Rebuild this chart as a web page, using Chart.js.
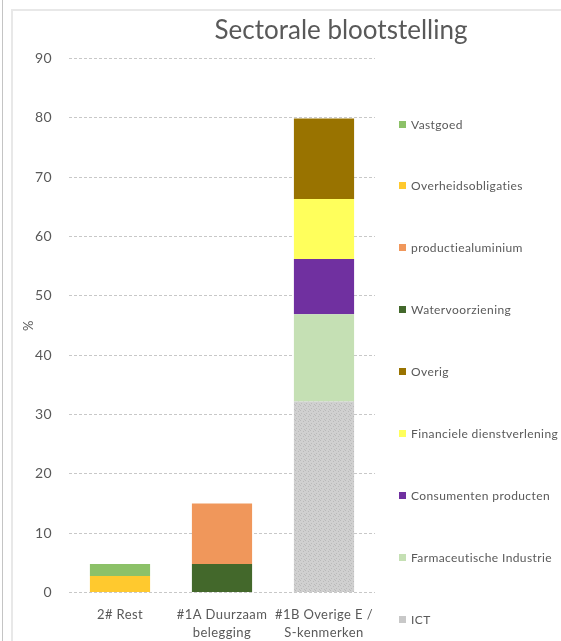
<!DOCTYPE html>
<html>
<head>
<meta charset="utf-8">
<script src="https://cdn.jsdelivr.net/npm/chart.js@4.4.1/dist/chart.umd.min.js"></script>
<style>
  html, body { margin:0; padding:0; background:#fff; width:561px; height:641px; overflow:hidden; }
  #wrap { position:relative; width:561px; height:641px; }
  #c { position:absolute; left:0; top:0; }
  .frameL { position:absolute; left:2px; top:0; width:1px; height:641px; background:#c4c4c4; }
  .frameIn { position:absolute; left:11px; top:9px; width:560px; height:640px; border-top:2px solid #e8e8e8; border-left:2px solid #e8e8e8; }
  #title { position:absolute; left:141px; width:400px; top:13px; text-align:center; font-family:Lato, "Open Sans", sans-serif; font-size:26px; color:#595959; white-space:nowrap; }
  #legend { position:absolute; left:399px; top:117px; font-family:Lato, "Open Sans", sans-serif; font-size:12px; color:#595959; white-space:nowrap; }
  .item { height:14px; margin-bottom:47.9px; display:flex; align-items:center; letter-spacing:0.4px; }
  .sw { width:7px; height:7px; margin-right:5px; flex:none; }
</style>
</head>
<body>
<div id="wrap">
  <div class="frameL"></div>
  <div class="frameIn"></div>
  <canvas id="c" width="561" height="641"></canvas>
  <div id="title">Sectorale blootstelling</div>
  <div id="legend"></div>
</div>
<script>
// Categories (x axis)
const categories = ['2# Rest', ['#1A Duurzaam', 'belegging'], ['#1B Overige E /', 'S-kenmerken']];
// Y tick settings
const yMin = 0, yMax = 90, yStep = 10;

// Series values (per category), in stacking order bottom -> top
const ICT = [0, 0, 32.2];
const farmaceutischeIndustrie = [0, 0, 14.7];
const consumentenProducten = [0, 0, 9.3];
const financieleDienstverlening = [0, 0, 10.1];
const overig = [0, 0, 13.6];
const watervoorziening = [0, 4.8, 0];
const productiealuminium = [0, 10.2, 0];
const overheidsobligaties = [2.8, 0, 0];
const vastgoed = [2.0, 0, 0];

// Speckled gray pattern for ICT
function makePattern() {
  const p = document.createElement('canvas');
  p.width = 5; p.height = 5;
  const g = p.getContext('2d');
  g.fillStyle = '#d0d0d0'; g.fillRect(0, 0, 5, 5);
  g.fillStyle = '#bababa';
  g.fillRect(0, 0, 1, 1); g.fillRect(3, 1, 1, 1); g.fillRect(1, 3, 1, 1); g.fillRect(4, 4, 1, 1);
  return g.createPattern(p, 'repeat');
}
const ictPattern = makePattern();

const datasets = [
  { label: 'ICT', data: ICT, backgroundColor: ictPattern, swatch: '#c8c8c8' },
  { label: 'Farmaceutische Industrie', data: farmaceutischeIndustrie, backgroundColor: '#c5e0b4' },
  { label: 'Consumenten producten', data: consumentenProducten, backgroundColor: '#7030a0' },
  { label: 'Financiele dienstverlening', data: financieleDienstverlening, backgroundColor: '#ffff5c' },
  { label: 'Overig', data: overig, backgroundColor: '#997300' },
  { label: 'Watervoorziening', data: watervoorziening, backgroundColor: '#43682b' },
  { label: 'productiealuminium', data: productiealuminium, backgroundColor: '#f0975b' },
  { label: 'Overheidsobligaties', data: overheidsobligaties, backgroundColor: '#ffc92e' },
  { label: 'Vastgoed', data: vastgoed, backgroundColor: '#8cc168' }
];

const tickColor = '#595959';
const spacingPlugin = {
  id: 'spacing',
  beforeDraw(c) { c.ctx.letterSpacing = '0.4px'; }
};

const chart = new Chart(document.getElementById('c'), {
  type: 'bar',
  data: { labels: categories, datasets: datasets.map(d => ({
    label: d.label, data: d.data, backgroundColor: d.backgroundColor,
    borderWidth: 0, categoryPercentage: 1.0, barPercentage: 0.59
  })) },
  plugins: [spacingPlugin],
  options: {
    responsive: false,
    animation: false,
    layout: { padding: { left: 14, right: 186, top: 58.5, bottom: 0 } },
    plugins: { legend: { display: false }, title: { display: false }, tooltip: { enabled: false } },
    scales: {
      x: {
        stacked: true,
        grid: { display: false, drawTicks: false },
        border: { display: false },
        ticks: { color: tickColor, padding: 13, maxRotation: 0, autoSkip: false,
                 font: { family: 'Lato, "Open Sans", sans-serif', size: 13, lineHeight: 1.38 } },
        afterFit: s => { s.height = 48.5; }
      },
      y: {
        stacked: true,
        min: yMin, max: yMax,
        grid: { color: '#c8c8c8', lineWidth: 1, drawTicks: false },
        border: { display: false, dash: [3, 2] },
        ticks: { stepSize: yStep, color: tickColor, padding: 17,
                 font: { family: 'Lato, "Open Sans", sans-serif', size: 14 } },
        title: { display: true, text: '%', color: tickColor, padding: { top: 7, bottom: 0 },
                 font: { family: 'Lato, "Open Sans", sans-serif', size: 13 } },
        afterFit: s => { s.width = 55; }
      }
    }
  }
});

// HTML legend built from the datasets, top of stack first
const leg = document.getElementById('legend');
datasets.slice().reverse().forEach(d => {
  const it = document.createElement('div');
  it.className = 'item';
  const sw = document.createElement('span');
  sw.className = 'sw';
  sw.style.background = d.swatch || d.backgroundColor;
  const tx = document.createElement('span');
  tx.textContent = d.label;
  it.appendChild(sw); it.appendChild(tx);
  leg.appendChild(it);
});
</script>
</body>
</html>
